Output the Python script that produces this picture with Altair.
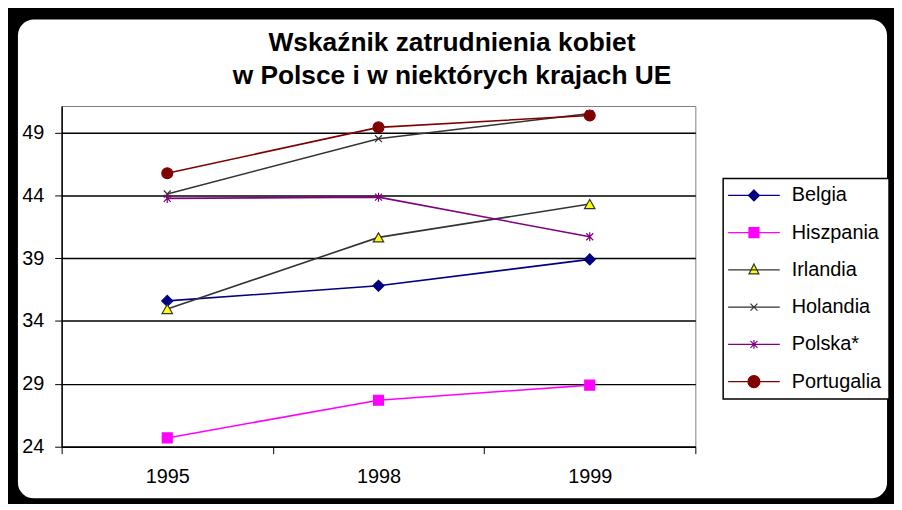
import altair as alt
import pandas as pd

# ---- data ----
years = ["1995", "1998", "1999"]
countries = ["Belgia", "Hiszpania", "Irlandia", "Holandia", "Polska*", "Portugalia"]
belgia = [35.6, 36.8, 38.9]
hiszpania = [24.7, 27.7, 28.9]
irlandia = [34.95, 40.65, 43.3]
holandia = [44.1, 48.5, 50.5]
polska = [43.75, 43.85, 40.7]
portugalia = [45.75, 49.4, 50.35]
y_ticks = [24, 29, 34, 39, 44, 49]
title_lines = ["Wskaźnik zatrudnienia kobiet", "w Polsce i w niektórych krajach UE"]

# ---- styles ----
line_colors = ["#000080", "#FF00FF", "#333333", "#333333", "#800080", "#800000"]
marker_fills = ["#000080", "#FF00FF", "#FFFF00", "transparent", "#800080", "#800000"]
marker_shapes = ["diamond", "square", "triangle-up",
                 "M-1,-1L1,1M-1,1L1,-1",
                 "M-1,-1L1,1M-1,1L1,-1M0,-1.3L0,1.3",
                 "circle"]
marker_sizes = [121, 100, 110, 49, 49, 120]
marker_filled = [True, True, True, False, False, True]
# legend symbols: line + marker (units of 5 px)
legend_shapes = [
    "M-5.2,0L5.2,0M0,-1.1L1.1,0L0,1.1L-1.1,0Z",
    "M-5.2,0L5.2,0M-1,-1L1,-1L1,1L-1,1Z",
    "M-5.2,0L5.2,0M0,-1.2L1,0.8L-1,0.8Z",
    "M-5.2,0L5.2,0M-0.7,-0.7L0.7,0.7M-0.7,0.7L0.7,-0.7",
    "M-5.2,0L5.2,0M-0.7,-0.7L0.7,0.7M-0.7,0.7L0.7,-0.7M0,-0.9L0,0.9",
    "M-5.2,0L5.2,0M-1.2,0A1.2,1.2,0,1,0,1.2,0A1.2,1.2,0,1,0,-1.2,0Z",
]

series = [belgia, hiszpania, irlandia, holandia, polska, portugalia]
rows = []
for c, vals in zip(countries, series):
    for yr, v in zip(years, vals):
        rows.append({"Rok": yr, "Kraj": c, "Wartosc": v})
df = pd.DataFrame(rows)

FONT = "Liberation Sans"

x_enc = alt.X("Rok:N", sort=years,
              scale=alt.Scale(type="band", paddingInner=0, paddingOuter=0),
              axis=alt.Axis(title=None, labelAngle=0, tickBand="extent",
                            tickSize=7, tickColor="black", labelPadding=13,
                            labelFont=FONT, labelFontSize=20, labelColor="black",
                            domainColor="black", domainWidth=1.5, grid=False))
y_enc = alt.Y("Wartosc:Q",
              scale=alt.Scale(domain=[24, 51.1], nice=False, zero=False),
              axis=alt.Axis(title=None, values=y_ticks, tickSize=7, tickColor="black",
                            labelPadding=11, labelFont=FONT, labelFontSize=20,
                            labelColor="black", domainColor="black", domainWidth=1.5,
                            grid=True, gridColor="black", gridWidth=1.5, gridOpacity=1))

base = alt.Chart(df)

# decorative black frame with rounded inner corners
frame = alt.Chart(pd.DataFrame({"f": [0]})).mark_rect(
    fill="transparent", stroke="black", strokeWidth=40, cornerRadius=36
).encode(x=alt.value(-64), x2=alt.value(851), y=alt.value(-107), y2=alt.value(415))

layers = [frame]
for c, shp, sz, filled, fc, lc in zip(countries, marker_shapes, marker_sizes,
                                       marker_filled, marker_fills, line_colors):
    sub = base.transform_filter(alt.datum.Kraj == c)
    layers.append(sub.mark_line(strokeWidth=1.6, stroke=lc).encode(x=x_enc, y=y_enc))
    props = dict(shape=shp, size=sz, stroke=lc, strokeWidth=1.2, opacity=1, filled=filled)
    if filled:
        props["fill"] = fc
    layers.append(sub.mark_point(**props).encode(x=x_enc, y=y_enc))

leg = alt.Legend(title=None, orient="none", legendX=666, legendY=73, direction="vertical",
                 padding=7, rowPadding=17.5, symbolSize=100, symbolStrokeWidth=1.2,
                 symbolOffset=14, labelOffset=28, labelFont=FONT, labelFontSize=20,
                 labelColor="black", labelLimit=300, fillColor="white", strokeColor="black",
                 symbolOpacity=1)

legend_layer = base.mark_point(size=0).encode(
    x=x_enc, y=y_enc,
    stroke=alt.Stroke("Kraj:N", scale=alt.Scale(domain=countries, range=line_colors), legend=leg),
    fill=alt.Fill("Kraj:N", scale=alt.Scale(domain=countries, range=marker_fills), legend=leg),
    shape=alt.Shape("Kraj:N", scale=alt.Scale(domain=countries, range=legend_shapes), legend=leg),
)
layers.append(legend_layer)

chart = alt.layer(*layers).properties(
    width=638, height=343,
    title=alt.TitleParams(title_lines, font=FONT, fontSize=26.5, fontWeight="bold",
                          lineHeight=33, anchor="middle", offset=0, dx=74, dy=110,
                          color="black"),
    autosize=alt.AutoSizeParams(type="none"),
    padding={"left": 54, "top": 97, "right": 200, "bottom": 56},
    background="white",
).configure_view(stroke="#808080", strokeWidth=1).configure_legend(strokeWidth=1.5)

chart.save("out.html", embed_options={"renderer": "svg", "actions": False})
